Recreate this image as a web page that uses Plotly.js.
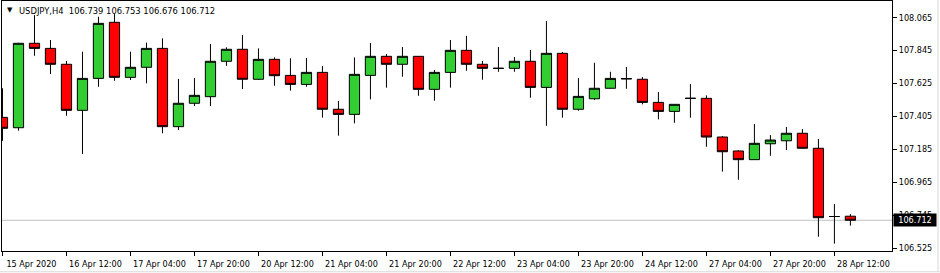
<!DOCTYPE html>
<html>
<head>
<meta charset="utf-8">
<script src="https://cdn.plot.ly/plotly-3.0.1.min.js"></script>
<style>
html,body{margin:0;padding:0;background:#fff;}
#chart{width:940px;height:273px;}
</style>
</head>
<body>
<div id="chart"></div>
<script>
const times = [
  "15 Apr 20:00",
  "16 Apr 00:00","16 Apr 04:00","16 Apr 08:00","16 Apr 12:00","16 Apr 16:00","16 Apr 20:00",
  "17 Apr 00:00","17 Apr 04:00","17 Apr 08:00","17 Apr 12:00","17 Apr 16:00","17 Apr 20:00",
  "20 Apr 00:00","20 Apr 04:00","20 Apr 08:00","20 Apr 12:00","20 Apr 16:00","20 Apr 20:00",
  "21 Apr 00:00","21 Apr 04:00","21 Apr 08:00","21 Apr 12:00","21 Apr 16:00","21 Apr 20:00",
  "22 Apr 00:00","22 Apr 04:00","22 Apr 08:00","22 Apr 12:00","22 Apr 16:00","22 Apr 20:00",
  "23 Apr 00:00","23 Apr 04:00","23 Apr 08:00","23 Apr 12:00","23 Apr 16:00","23 Apr 20:00",
  "24 Apr 00:00","24 Apr 04:00","24 Apr 08:00","24 Apr 12:00","24 Apr 16:00","24 Apr 20:00",
  "27 Apr 00:00","27 Apr 04:00","27 Apr 08:00","27 Apr 12:00","27 Apr 16:00","27 Apr 20:00",
  "28 Apr 00:00","28 Apr 04:00","28 Apr 08:00","28 Apr 12:00","28 Apr 16:00"
];
const openP = [
  107.398,
  107.329,107.892,107.858,107.752,107.445,107.658,
  108.032,107.665,107.732,107.858,107.336,107.492,
  107.536,107.772,107.852,107.652,107.785,107.678,
  107.618,107.698,107.452,107.418,107.678,107.805,
  107.752,107.805,107.585,107.698,107.845,107.752,
  107.725,107.725,107.772,107.598,107.825,107.452,
  107.522,107.592,107.657,107.652,107.498,107.438,
  107.525,107.525,107.267,107.174,107.116,107.222,
  107.242,107.292,107.192,106.737,106.739
];
const highP = [
  107.592,
  107.895,108.080,107.914,107.774,107.836,108.069,
  108.087,107.836,107.896,107.925,107.654,107.660,
  107.887,107.865,107.947,107.858,107.798,107.792,
  107.794,107.740,107.507,107.798,107.894,107.820,
  107.867,107.807,107.714,107.914,107.942,107.774,
  107.867,107.800,107.847,108.040,107.834,107.660,
  107.762,107.702,107.734,107.667,107.567,107.485,
  107.620,107.545,107.274,107.180,107.354,107.280,
  107.334,107.320,107.254,106.820,106.753
];
const lowP = [
  107.242,
  107.309,107.809,107.687,107.409,107.154,107.602,
  107.642,107.647,107.625,107.292,107.314,107.474,
  107.474,107.742,107.587,107.648,107.609,107.576,
  107.602,107.396,107.276,107.358,107.518,107.596,
  107.669,107.542,107.509,107.596,107.709,107.649,
  107.702,107.702,107.529,107.342,107.396,107.442,
  107.514,107.590,107.589,107.485,107.385,107.362,
  107.396,107.202,107.036,106.982,107.114,107.142,
  107.180,107.190,106.602,106.556,106.676
];
const closeP = [
  107.325,
  107.892,107.858,107.752,107.445,107.658,108.025,
  107.665,107.732,107.858,107.336,107.492,107.545,
  107.772,107.852,107.652,107.785,107.676,107.618,
  107.698,107.452,107.418,107.685,107.805,107.752,
  107.805,107.585,107.698,107.845,107.752,107.725,
  107.725,107.772,107.598,107.825,107.452,107.538,
  107.592,107.658,107.655,107.498,107.438,107.485,
  107.525,107.267,107.169,107.116,107.225,107.247,
  107.292,107.192,106.729,106.737,106.712
];
const xTickCats = ["15 Apr 20:00","16 Apr 12:00","17 Apr 04:00","17 Apr 20:00","20 Apr 12:00",
  "21 Apr 04:00","21 Apr 20:00","22 Apr 12:00","23 Apr 04:00","23 Apr 20:00","24 Apr 12:00",
  "27 Apr 04:00","27 Apr 20:00","28 Apr 12:00"];
const xTickLabels = ["15 Apr 2020","16 Apr 12:00","17 Apr 04:00","17 Apr 20:00","20 Apr 12:00",
  "21 Apr 04:00","21 Apr 20:00","22 Apr 12:00","23 Apr 04:00","23 Apr 20:00","24 Apr 12:00",
  "27 Apr 04:00","27 Apr 20:00","28 Apr 12:00"];
const yTicks = [106.525,106.745,106.965,107.185,107.405,107.625,107.845,108.065];
const symbol = "USDJPY,H4";
const lastPrice = 106.712;

const FONT = "'DejaVu Sans Condensed', 'Liberation Sans', Arial, sans-serif";

const n = closeP.length;
const titleText = symbol + "\u00A0\u00A0" + [openP[n-1], highP[n-1], lowP[n-1], closeP[n-1]].map(v => v.toFixed(3)).join("\u00A0");

const trace = {
  type: "candlestick",
  x: times,
  open: openP, high: highP, low: lowP, close: closeP,
  increasing: {line: {color: "#000000", width: 1}, fillcolor: "#32CD32"},
  decreasing: {line: {color: "#000000", width: 1}, fillcolor: "#FF0000"},
  whiskerwidth: 0,
  hoverinfo: "skip",
  showlegend: false
};

const layout = {
  width: 940, height: 273,
  margin: {l: 2, r: 48, t: 1, b: 22},
  paper_bgcolor: "#ffffff",
  plot_bgcolor: "#ffffff",
  showlegend: false,
  boxgap: 0.36, boxgroupgap: 0,
  font: {family: FONT, size: 9, color: "#000000"},
  xaxis: {
    type: "category",
    range: [-0.03, 55.6],
    rangeslider: {visible: false},
    showgrid: false, zeroline: false,
    showline: true, linecolor: "#000000", linewidth: 1, mirror: true,
    ticks: "outside", ticklen: 4, tickcolor: "#000000", tickwidth: 1,
    tickmode: "array", tickvals: xTickCats, ticktext: xTickLabels,
    tickangle: 0,
    ticklabelshift: 29,
    tickfont: {family: FONT, size: 9, color: "#000000"},
    fixedrange: true
  },
  yaxis: {
    side: "right",
    range: [106.507, 108.174],
    showgrid: false, zeroline: false,
    showline: true, linecolor: "#000000", linewidth: 1, mirror: true,
    ticks: "outside", ticklen: 4, tickcolor: "#000000", tickwidth: 1,
    tickmode: "array", tickvals: yTicks, ticktext: yTicks.map(v => v.toFixed(3)),
    tickfont: {family: FONT, size: 9, color: "#000000"},
    fixedrange: true
  },
  shapes: [
    {type: "line", xref: "paper", yref: "y", x0: 0, x1: 1, y0: lastPrice, y1: lastPrice,
     line: {color: "#C0C0C0", width: 1}, layer: "below"},
    {type: "line", xref: "paper", yref: "paper", x0: -0.01, x1: 1.06, y0: -0.083, y1: -0.083,
     line: {color: "#D8D8D8", width: 1}},
    {type: "line", xref: "paper", yref: "paper", x0: 1.0517, x1: 1.0517, y0: -0.083, y1: 1.01,
     line: {color: "#D8D8D8", width: 1}}
  ],
  annotations: [
    {xref: "paper", yref: "paper", x: 0.0035, y: 0.964, xanchor: "left", yanchor: "middle",
     text: "\u25BC", showarrow: false, font: {family: "DejaVu Sans", size: 7, color: "#000000"}},
    {xref: "paper", yref: "paper", x: 0.0169, y: 0.963, xanchor: "left", yanchor: "middle",
     text: titleText, showarrow: false, font: {family: FONT, size: 9.3, color: "#000000"}},
    {xref: "paper", yref: "y", x: 1, y: lastPrice, xanchor: "left", yanchor: "middle", xshift: 1,
     text: lastPrice.toFixed(3), showarrow: false, bgcolor: "#000000", borderpad: 1,
     width: 40, height: 10, align: "center",
     font: {family: FONT, size: 9, color: "#ffffff"}}
  ]
};

Plotly.newPlot("chart", [trace], layout, {displayModeBar: false, staticPlot: true});
</script>
</body>
</html>
